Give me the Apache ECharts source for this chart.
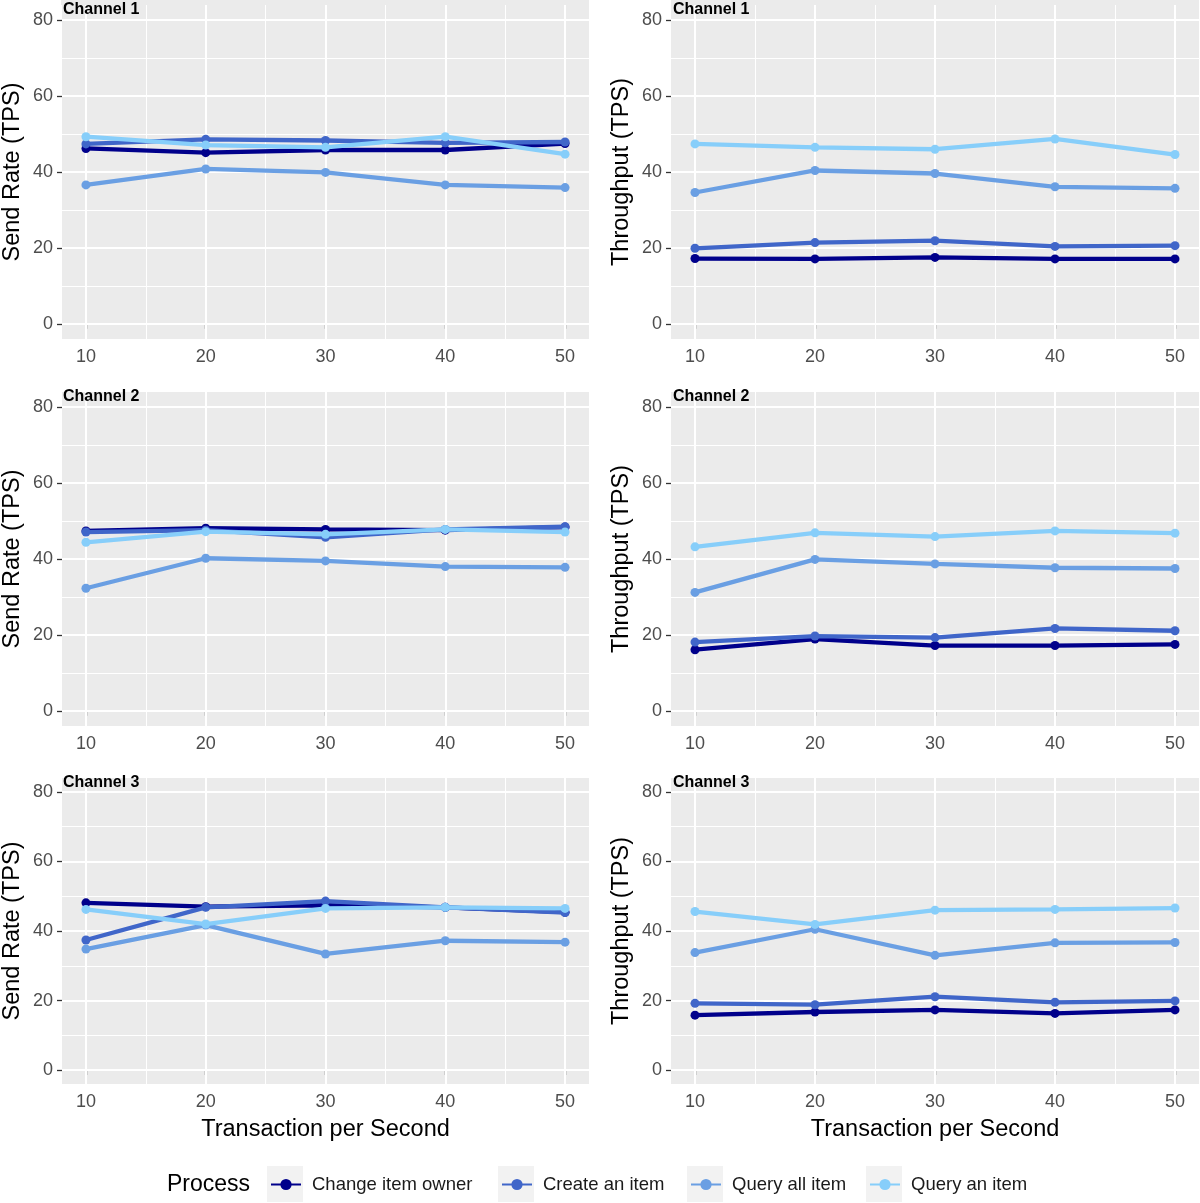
<!DOCTYPE html>
<html>
<head>
<meta charset="utf-8">
<script src="https://cdn.jsdelivr.net/npm/echarts@6/dist/echarts.min.js"></script>
<style>
html,body{margin:0;padding:0;background:#fff;}
#c{width:1200px;height:1203px;}
</style>
</head>
<body>
<div id="c"></div>
<script>
const tps = [10, 20, 30, 40, 50];
const processes = ['Change item owner', 'Create an item', 'Query all item', 'Query an item'];
const colors = ['#00008B', '#4066C9', '#6A9FE3', '#87CEFA'];
const yTicks = [0, 20, 40, 60, 80];
const yMinor = [10, 30, 50, 70];
const xTicks = [10, 20, 30, 40, 50];
const xMinor = [15, 25, 35, 45];
const channels = ['Channel 1', 'Channel 2', 'Channel 3'];

// [Change item owner, Create an item, Query all item, Query an item]
const sendRateCh1 = [
  [46.2, 45.1, 45.8, 45.8, 47.5],
  [47.4, 48.6, 48.3, 47.7, 47.9],
  [36.6, 40.8, 39.9, 36.6, 35.9],
  [49.3, 47.1, 46.5, 49.3, 44.7]
];
const throughputCh1 = [
  [17.2, 17.1, 17.5, 17.1, 17.1],
  [19.9, 21.4, 21.9, 20.4, 20.6],
  [34.6, 40.4, 39.6, 36.1, 35.7],
  [47.4, 46.5, 46.0, 48.7, 44.6]
];
const sendRateCh2 = [
  [47.4, 48.1, 47.8, 47.6, 48.4],
  [47.1, 47.6, 45.7, 47.8, 48.5],
  [32.3, 40.2, 39.5, 38.0, 37.8],
  [44.4, 47.2, 46.5, 47.8, 47.1]
];
const throughputCh2 = [
  [16.1, 18.9, 17.2, 17.2, 17.5],
  [18.1, 19.7, 19.3, 21.7, 21.1],
  [31.2, 39.9, 38.7, 37.7, 37.5],
  [43.2, 46.9, 45.9, 47.4, 46.8]
];
const sendRateCh3 = [
  [48.1, 47.0, 47.4, 46.8, 45.4],
  [37.4, 46.8, 48.6, 46.8, 45.3],
  [34.8, 41.7, 33.4, 37.2, 36.8],
  [46.2, 42.0, 46.5, 46.8, 46.5]
];
const throughputCh3 = [
  [15.8, 16.7, 17.3, 16.3, 17.3],
  [19.2, 18.8, 21.1, 19.5, 19.9],
  [33.8, 40.5, 33.0, 36.6, 36.7],
  [45.6, 41.9, 46.0, 46.2, 46.6]
];

const panels = [
  {data: sendRateCh1, yName: 'Send Rate (TPS)', ch: 0, col: 0, row: 0},
  {data: throughputCh1, yName: 'Throughput (TPS)', ch: 0, col: 1, row: 0},
  {data: sendRateCh2, yName: 'Send Rate (TPS)', ch: 1, col: 0, row: 1},
  {data: throughputCh2, yName: 'Throughput (TPS)', ch: 1, col: 1, row: 1},
  {data: sendRateCh3, yName: 'Send Rate (TPS)', ch: 2, col: 0, row: 2},
  {data: throughputCh3, yName: 'Throughput (TPS)', ch: 2, col: 1, row: 2}
];

const colLeft = [61, 671];
const panelW = 528;
const rowTop = [5, 392, 778];
const rowH = [334, 334, 306];
const FONT = 'Liberation Sans, Arial, sans-serif';

const grid = [], xAxis = [], yAxis = [], series = [], title = [];

panels.forEach((p, i) => {
  grid.push({left: colLeft[p.col], top: rowTop[p.row], width: panelW, height: rowH[p.row],
    show: true, backgroundColor: '#EBEBEB', borderWidth: 0, containLabel: false});
  const bottomRow = p.row === 2;
  xAxis.push({
    type: 'value', gridIndex: i, min: 8, max: 52,
    name: bottomRow ? 'Transaction per Second' : '',
    nameLocation: 'middle', nameGap: 34,
    nameTextStyle: {fontSize: 23.5, color: '#000', fontFamily: FONT},
    axisLine: {show: false},
    axisTick: {show: true, length: 5, customValues: xTicks, lineStyle: {color: '#333', width: 1.3}},
    axisLabel: {customValues: xTicks, fontSize: 18, color: '#4D4D4D', margin: 9, fontFamily: FONT},
    splitLine: {show: false}
  });
  yAxis.push({
    type: 'value', gridIndex: i, min: -4, max: 84,
    name: p.yName, nameLocation: 'middle', nameGap: 37,
    nameTextStyle: {fontSize: 23.5, color: '#000', fontFamily: FONT},
    axisLine: {show: false},
    axisTick: {show: true, length: 5, customValues: yTicks, lineStyle: {color: '#333', width: 1.3}},
    axisLabel: {customValues: yTicks, fontSize: 18, color: '#4D4D4D', margin: 9, fontFamily: FONT},
    splitLine: {show: false}
  });
  const ml = [];
  yMinor.forEach(v => ml.push({yAxis: v, lineStyle: {color: '#fff', width: 1, type: 'solid'}}));
  xMinor.forEach(v => ml.push({xAxis: v, lineStyle: {color: '#fff', width: 1, type: 'solid'}}));
  yTicks.forEach(v => ml.push({yAxis: v, lineStyle: {color: '#fff', width: 2, type: 'solid'}}));
  xTicks.forEach(v => ml.push({xAxis: v, lineStyle: {color: '#fff', width: 2, type: 'solid'}}));
  series.push({
    type: 'line', xAxisIndex: i, yAxisIndex: i, data: [], z: 1, silent: true,
    markLine: {z: 1, silent: true, symbol: ['none', 'none'], label: {show: false}, animation: false, data: ml}
  });
  p.data.forEach((vals, k) => {
    series.push({
      name: processes[k], type: 'line', xAxisIndex: i, yAxisIndex: i, z: 10 + k,
      data: tps.map((t, j) => [t, vals[j]]),
      symbol: 'circle', symbolSize: 9, showSymbol: true,
      lineStyle: {color: colors[k], width: 4.3},
      itemStyle: {color: colors[k]},
      emphasis: {disabled: true}
    });
  });
  title.push({
    text: channels[p.ch], left: colLeft[p.col] + 2, top: rowTop[p.row] - 3, padding: 0,
    textStyle: {fontSize: 16, fontWeight: 'bold', color: '#000', fontFamily: FONT}
  });
});

title.push({text: 'Process', left: 167, top: 1173, padding: 0,
  textStyle: {fontSize: 23, fontWeight: 'normal', color: '#000', fontFamily: FONT}});

const keyLeft = [267, 498, 687, 866];
const legend = processes.map((name, k) => ({
  data: [name], left: keyLeft[k] + 3, top: 1175, padding: 0,
  itemWidth: 30, itemHeight: 14, selectedMode: false,
  textStyle: {fontSize: 18.5, color: '#1A1A1A', fontFamily: FONT, padding: [0, 0, 0, 6]}
}));

const graphic = keyLeft.map(x => ({
  type: 'rect', shape: {x: x, y: 1166, width: 36, height: 36},
  style: {fill: '#F2F2F2'}, z: 0, silent: true
})).concat(colLeft.map(x => ({
  type: 'rect', shape: {x: x, y: 0, width: panelW, height: 5},
  style: {fill: '#EBEBEB'}, z: 0, silent: true
})));

const chart = echarts.init(document.getElementById('c'));
chart.setOption({
  animation: false,
  backgroundColor: '#fff',
  textStyle: {fontFamily: FONT},
  title, grid, xAxis, yAxis, series, legend, graphic
});
</script>
</body>
</html>
